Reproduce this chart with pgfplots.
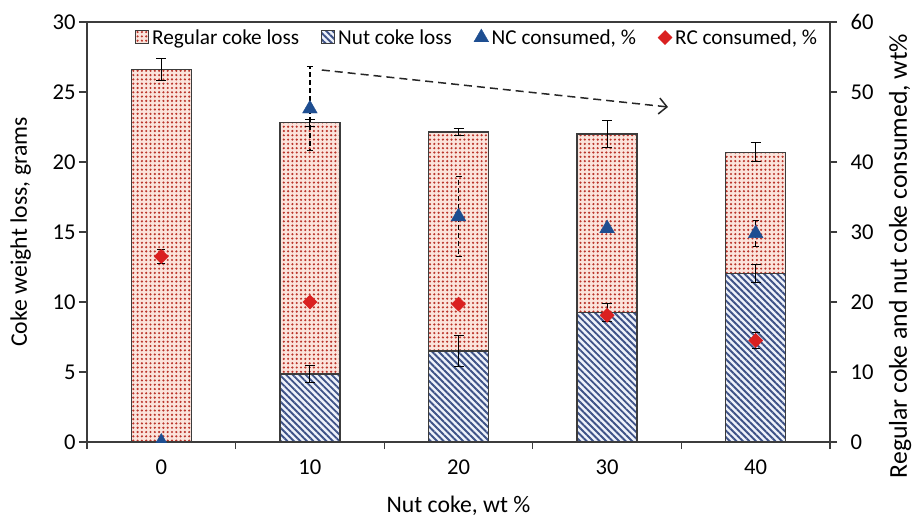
\documentclass[border=0pt]{standalone}
\usepackage{pgfplots}
\usepackage{pgfplotstable}
\pgfplotsset{compat=1.18}
\usetikzlibrary{patterns.meta,arrows.meta}
\usepackage{fontspec}
\setmainfont{Carlito}
\definecolor{dotred}{RGB}{186,52,42}
\definecolor{dotbg}{RGB}{251,228,220}
\definecolor{stripeblue}{RGB}{62,82,135}
\definecolor{stripebg}{RGB}{238,242,250}
\definecolor{triblue}{RGB}{30,78,145}
\definecolor{diared}{RGB}{218,32,32}
\definecolor{edge}{RGB}{60,60,60}
\newcommand\tickfont{\fontsize{22.7}{26}\selectfont}
\newcommand\labfont{\fontsize{23.8}{27}\selectfont}
\newcommand\rlabfont{\fontsize{25.8}{29}\selectfont}
\newcommand\legfont{\fontsize{21.3}{24}\selectfont}

% x: 0,1,2,3,4 = nut coke 0,10,20,30,40 wt%
\pgfplotstableread{
x nut reg
0 0     26.6
1 4.85  17.95
2 6.5   15.65
3 9.25  12.75
4 12.05 8.65
}\bardata
\pgfplotstableread{
x total err
0 26.6  0.8
1 22.8  0.25
2 22.15 0.25
3 22.0  0.95
4 20.7  0.7
}\toterr
\pgfplotstableread{
x nut err
1 4.85  0.6
2 6.5   1.1
3 9.25  0.65
4 12.05 0.65
}\nuterr
\pgfplotstableread{
x nc rc
0 0    26.5
1 47.6 20.0
2 32.2 19.7
3 30.5 18.1
4 29.8 14.5
}\consumed
\pgfplotstableread{
x nc err
1 47.6 6.0
2 32.2 5.7
4 29.8 1.8
}\ncerr
\pgfplotstableread{
x rc err
0 26.5 1.0
4 14.5 1.2
}\rcerr

\tikzset{
  regstyle/.style={preaction={fill=dotbg}, pattern={Dots[distance=4.3bp,radius=1.2bp]}, pattern color=dotred, draw=edge, line width=1.3bp},
  nutstyle/.style={preaction={fill=stripebg}, pattern={Lines[angle=-45,distance=4.6bp,line width=1.9bp]}, pattern color=stripeblue, draw=edge, line width=1.3bp},
}
\pgfplotsset{
  base/.style={width=743bp, height=420bp, scale only axis, xmin=-0.5, xmax=4.5,
    /pgf/number format/assume math mode=true,
    tick label style={font=\tickfont},
    label style={font=\labfont}},
  sqlegend/.style={legend image code/.code={\draw[##1] (0bp,-6bp) rectangle (13bp,7bp);}},
  mklegend/.style={legend image code/.code={\draw[##1] plot coordinates {(7bp,0bp)};}},
}

\begin{document}
\begin{tikzpicture}
\begin{axis}[base, name=ax, ymin=0, ymax=30,
  ybar stacked, bar width=0.404,
  ytick={0,5,...,30},
  xtick={0,1,2,3,4}, xticklabels={0,10,20,30,40},
  minor xtick={-0.5,0.5,1.5,2.5,3.5,4.5},
  tick pos=left, tick align=outside,
  major x tick style={draw=none},
  major tick length=8bp, minor tick length=7bp,
  xticklabel style={yshift=-6bp},
  axis line style={edge, line width=1.3bp},
  tick style={edge, line width=1.3bp},
  xlabel={Nut coke, wt \%},
  ylabel={Coke weight loss, grams},
  xlabel style={at={(axis description cs:0.5,-0.169)}, anchor=base},
  ylabel style={at={(axis description cs:-0.0808,0.5)}, anchor=base},
]
\addplot[nutstyle] table[x=x, y=nut] {\bardata};
\addplot[regstyle] table[x=x, y=reg] {\bardata};
\end{axis}

\begin{axis}[base, ymin=0, ymax=30, hide axis, clip=false]
\addplot[draw=none, mark=none, error bars/.cd, y dir=both, y explicit,
  error bar style={draw=black, line width=1bp, solid},
  error mark options={draw=black, line width=1bp, mark size=5bp, rotate=90}]
  table[x=x, y=total, y error=err] {\toterr};
\addplot[draw=none, mark=none, error bars/.cd, y dir=both, y explicit,
  error bar style={draw=black, line width=1bp, solid},
  error mark options={draw=black, line width=1bp, mark size=5bp, rotate=90}]
  table[x=x, y=nut, y error=err] {\nuterr};
\draw[black!85, line width=1.5bp, dash pattern=on 8bp off 5bp, -{Straight Barb[length=8bp,width=16bp,line width=1.5bp]}]
  (axis cs:1.08,26.57) -- (axis cs:3.41,23.93);
\end{axis}

\begin{axis}[base, ymin=0, ymax=60,
  axis x line=none, axis y line*=right,
  ytick={0,10,...,60},
  tick align=outside, major tick length=7bp,
  yticklabel style={xshift=10bp},
  clip marker paths=true,
  axis line style={edge, line width=1.3bp},
  tick style={edge, line width=1.3bp},
  ylabel={Regular coke and nut coke consumed, wt\%},
  ylabel style={font=\rlabfont, at={(axis description cs:1.1036,0.443)}, anchor=base},
  legend columns=4,
  legend style={draw=none, fill=none, font=\legfont,
    at={(axis description cs:0.0646,0.963)}, anchor=west,
    inner xsep=0pt, inner ysep=0pt,
    nodes={inner sep=1bp},
    /tikz/every odd column/.append style={column sep=2bp},
    /tikz/every even column/.append style={column sep=21bp}},
]
\addlegendimage{regstyle, line width=1bp, sqlegend}
\addlegendimage{nutstyle, line width=1bp, sqlegend}
\addplot[draw=none, mark=none, forget plot, error bars/.cd, y dir=both, y explicit,
  error bar style={draw=black, line width=1.2bp, dash pattern=on 5bp off 3bp},
  error mark options={draw=black, line width=1bp, mark size=3bp, rotate=90, solid}]
  table[x=x, y=nc, y error=err] {\ncerr};
\addplot[draw=none, mark=none, forget plot, error bars/.cd, y dir=both, y explicit,
  error bar style={draw=black, line width=1bp, solid},
  error mark options={draw=black, line width=1bp, mark size=4bp, rotate=90}]
  table[x=x, y=rc, y error=err] {\rcerr};
\addplot[only marks, mark=triangle*, mark size=8.5bp, color=triblue, mklegend]
  table[x=x, y=nc] {\consumed};
\addplot[only marks, mark=square*, mark size=5bp, mark options={rotate=45}, color=diared, mklegend]
  table[x=x, y=rc] {\consumed};
\legend{Regular coke loss, Nut coke loss, {NC consumed, \%}, {RC consumed, \%}}
\end{axis}

\pgfresetboundingbox
\path[use as bounding box] ([shift={(-87bp,-76bp)}]ax.south west) rectangle ([shift={(82bp,22bp)}]ax.north east);
\end{tikzpicture}
\end{document}
